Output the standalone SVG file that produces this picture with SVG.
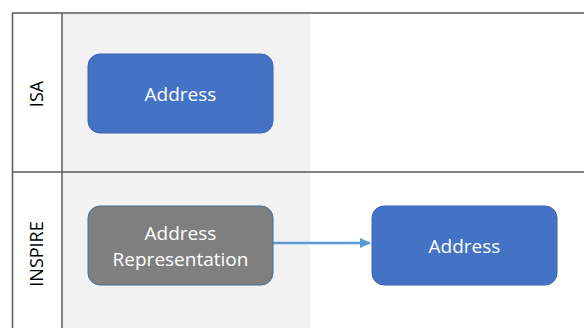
<svg xmlns="http://www.w3.org/2000/svg" width="584" height="328" viewBox="0 0 584 328">
<defs>
<style>
.lane{stroke:#595959;stroke-width:1.5;fill:none}
.blue{fill:#4472C4;stroke:#3A64B0;stroke-width:1}
.gray{fill:#7F7F7F;stroke:#41719C;stroke-width:1}
.t{font-family:"Open Sans",sans-serif;font-size:19px;fill:#FFFFFF;text-anchor:middle}
.lbl{font-family:"Open Sans",sans-serif;font-size:18px;fill:#000000;text-anchor:middle}
</style>
<marker id="arr" markerWidth="12" markerHeight="12" refX="10" refY="6" orient="auto" markerUnits="userSpaceOnUse">
<path d="M0,1 L11,6 L0,11 Z" fill="#5B9BD5"/>
</marker>
</defs>
<rect x="0" y="0" width="584" height="328" fill="#FFFFFF"/>
<rect x="62" y="13" width="248" height="315" fill="#F2F2F2"/>
<g id="lanes">
<line class="lane" x1="12" y1="13" x2="584" y2="13"/>
<line class="lane" x1="12" y1="172" x2="584" y2="172"/>
<line class="lane" x1="12.5" y1="13" x2="12.5" y2="328"/>
<line class="lane" x1="62" y1="13" x2="62" y2="328"/>
<text class="lbl" transform="translate(43,94) rotate(-90)">ISA</text>
<text class="lbl" transform="translate(43,254) rotate(-90)">INSPIRE</text>
</g>
<g id="connectors">
<line x1="273" y1="243" x2="370" y2="243" stroke="#5B9BD5" stroke-width="2.5" marker-end="url(#arr)"/>
</g>
<g id="isa-address">
<rect class="blue" x="88" y="54" width="185" height="79" rx="12"/>
<text class="t" x="180.5" y="101">Address</text>
</g>
<g id="inspire-address-representation">
<rect class="gray" x="88" y="206" width="185" height="79" rx="12"/>
<text class="t" x="180.5" y="240">Address</text>
<text class="t" x="180.5" y="266">Representation</text>
</g>
<g id="inspire-address">
<rect class="blue" x="372" y="206" width="185" height="79" rx="12"/>
<text class="t" x="464.5" y="253">Address</text>
</g>
</svg>
